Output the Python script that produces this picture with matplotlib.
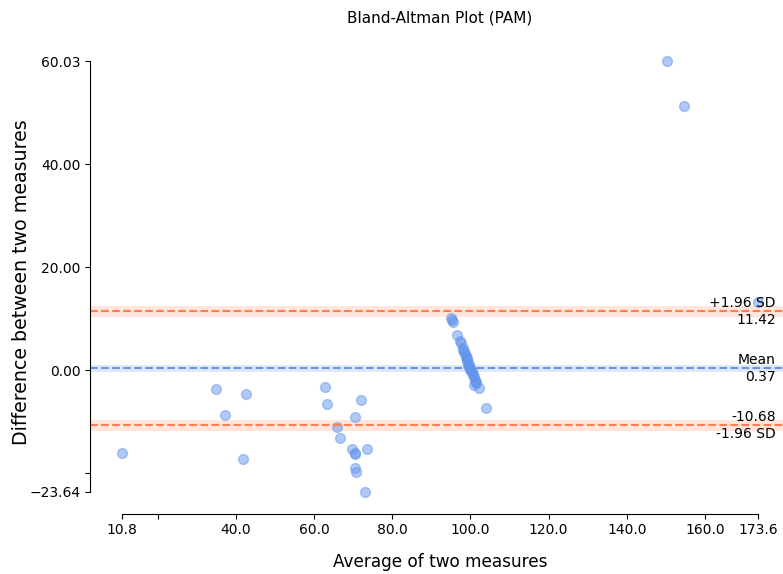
import matplotlib
matplotlib.use("Agg")
import matplotlib.pyplot as plt
import matplotlib.transforms as transforms

# Data (mean of two measures, difference)
mean_vals = [10.8, 34.8, 37.1, 42.5, 41.8, 62.8, 63.3, 65.8, 66.5, 72.1, 70.4, 69.7,
             70.4, 70.5, 73.6, 70.4, 70.8, 73.0, 150.2, 154.6, 173.6,
             95.0, 95.2, 95.4, 96.5, 97.3, 97.6, 98.0, 98.2, 98.5, 98.8, 99.0, 99.2,
             99.4, 99.7, 100.0, 100.3, 100.6, 100.9, 101.2, 101.5, 102.3, 101.0, 104.0,
             98.3, 98.9, 99.5, 100.1, 100.7, 101.3, 99.1, 99.8]
diff_vals = [-16.1, -3.7, -8.6, -4.6, -17.3, -3.2, -6.6, -11.0, -13.1, -5.8, -9.0, -15.3,
             -16.1, -16.2, -15.3, -18.9, -19.7, -23.64, 60.03, 51.3, 13.2,
             10.2, 9.8, 9.4, 6.8, 5.7, 5.3, 4.4, 3.9, 3.4, 2.8, 2.3, 1.7,
             1.0, 0.6, 0.1, -0.3, -0.8, -1.3, -1.9, -2.4, -3.4, -2.9, -7.4,
             3.6, 2.5, 1.2, 0.0, -1.0, -2.2, 2.0, 0.4]

mean_diff = 0.37
upper_loa = 11.42
lower_loa = -10.68
mean_ci = (-0.26, 1.00)
upper_ci = (10.37, 12.47)
lower_ci = (-11.73, -9.63)

x_ticks = [10.8, 20.0, 40.0, 60.0, 80.0, 100.0, 120.0, 140.0, 160.0, 173.6]
x_ticklabels = ['10.8', '', '40.0', '60.0', '80.0', '100.0', '120.0', '140.0', '160.0', '173.6']
y_ticks = [-23.64, -20.0, 0.0, 20.0, 40.0, 60.03]
y_ticklabels = ['\u221223.64', '', '0.00', '20.00', '40.00', '60.03']

mean_colour = '#6495ED'
loa_colour = 'coral'

fig = plt.figure(figsize=(7.83, 5.74), dpi=100)
ax = fig.add_axes([0.1152, 0.1054, 0.8935, 0.8258])

ax.axhspan(mean_ci[0], mean_ci[1], facecolor=mean_colour, alpha=0.2)
ax.axhspan(upper_ci[0], upper_ci[1], facecolor=loa_colour, alpha=0.2)
ax.axhspan(lower_ci[0], lower_ci[1], facecolor=loa_colour, alpha=0.2)

ax.axhline(mean_diff, color=mean_colour, linestyle='--')
ax.axhline(upper_loa, color=loa_colour, linestyle='--')
ax.axhline(lower_loa, color=loa_colour, linestyle='--')

ax.scatter(mean_vals, diff_vals, alpha=0.5, c=mean_colour, s=50)

trans = transforms.blended_transform_factory(ax.transAxes, ax.transData)
offset = (upper_loa - lower_loa) / 100.0 * 1.5
fs = 10
ax.text(0.98, mean_diff + offset, 'Mean', ha='right', va='bottom', transform=trans, fontsize=fs)
ax.text(0.98, mean_diff - offset, f'{mean_diff:.2f}', ha='right', va='top', transform=trans, fontsize=fs)
ax.text(0.98, upper_loa + offset, '+1.96 SD', ha='right', va='bottom', transform=trans, fontsize=fs)
ax.text(0.98, upper_loa - offset, f'{upper_loa:.2f}', ha='right', va='top', transform=trans, fontsize=fs)
ax.text(0.98, lower_loa + offset, f'{lower_loa:.2f}', ha='right', va='bottom', transform=trans, fontsize=fs)
ax.text(0.98, lower_loa - offset, '-1.96 SD', ha='right', va='top', transform=trans, fontsize=fs)

ax.set_xlim(2.66, 181.74)
ax.set_ylim(-27.82, 64.21)
ax.spines['right'].set_visible(False)
ax.spines['top'].set_visible(False)
ax.spines['left'].set_bounds(min(diff_vals), max(diff_vals))
ax.spines['bottom'].set_bounds(min(mean_vals), max(mean_vals))

ax.set_xticks(x_ticks)
ax.set_xticklabels(x_ticklabels, fontsize=fs)
ax.set_yticks(y_ticks)
ax.set_yticklabels(y_ticklabels, fontsize=fs)

ax.set_xlabel('Average of two measures', fontsize=12.2, labelpad=11)
ax.set_ylabel('Difference between two measures', fontsize=13.7, labelpad=-1)
ax.yaxis.label.set_y(0.487)
ax.set_title('Bland-Altman Plot (PAM)', fontsize=11, pad=12)
ax.patch.set_alpha(0)

fig.savefig('out.png', dpi=100)
